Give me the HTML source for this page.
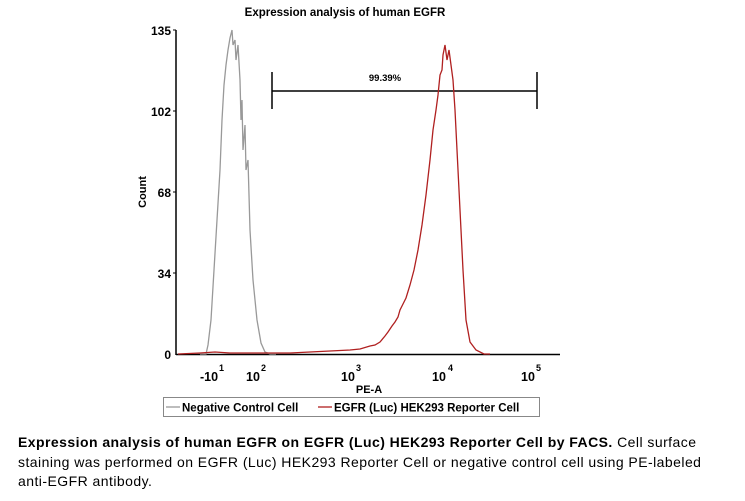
<!DOCTYPE html>
<html><head><style>
body{margin:0;background:#fff;width:745px;height:501px;overflow:hidden;font-family:"Liberation Sans",sans-serif;}
.cap{position:absolute;left:18px;top:433px;width:718px;font-size:14px;letter-spacing:0.45px;line-height:19.5px;color:#000;}
</style></head><body>
<svg width="745" height="501" style="position:absolute;left:0;top:0" font-family="Liberation Sans, sans-serif">
<text x="345" y="16" font-size="11.5" font-weight="bold" text-anchor="middle">Expression analysis of human EGFR</text>
<line x1="176" y1="30" x2="176" y2="355" stroke="#000" stroke-width="1.5"/>
<line x1="176" y1="354.5" x2="560" y2="354.5" stroke="#000" stroke-width="1.5"/>
<g stroke="#000" stroke-width="1">
<line x1="173" y1="30" x2="176" y2="30"/><line x1="173" y1="111" x2="176" y2="111"/><line x1="173" y1="192" x2="176" y2="192"/><line x1="173" y1="273" x2="176" y2="273"/>
</g>
<g font-size="12" font-weight="bold" text-anchor="end">
<text x="171" y="35">135</text><text x="171" y="116">102</text><text x="171" y="197">68</text><text x="171" y="278">34</text><text x="171" y="359">0</text>
</g>
<text transform="translate(146,192) rotate(-90)" font-size="11" font-weight="bold" text-anchor="middle">Count</text>
<g font-size="12.5" font-weight="bold">
<text x="200" y="381">-10</text><text x="219" y="371" font-size="9">1</text>
<text x="246" y="381">10</text><text x="261" y="371" font-size="9">2</text>
<text x="341" y="381">10</text><text x="356" y="371" font-size="9">3</text>
<text x="432" y="381">10</text><text x="448" y="371" font-size="9">4</text>
<text x="521" y="381">10</text><text x="536" y="371" font-size="9">5</text>
</g>
<text x="369" y="393" font-size="11" font-weight="bold" text-anchor="middle">PE-A</text>
<line x1="272" y1="91" x2="537" y2="91" stroke="#000" stroke-width="1.5"/>
<line x1="272" y1="72" x2="272" y2="109" stroke="#000" stroke-width="1.5"/>
<line x1="537" y1="72" x2="537" y2="109" stroke="#000" stroke-width="1.5"/>
<text x="385" y="81" font-size="9.5" font-weight="bold" text-anchor="middle">99.39%</text>
<polyline fill="none" stroke="#999" stroke-width="1.3" points="200,354 206,354 208,345 211,320 214,270 217,220 220,170 222,120 224,85 226,65 228,50 230,38 232,30 233,45 235,40 236,60 238,45 240,80 241,120 242,100 243,150 245,125 246,170 248,160 250,230 253,280 257,320 261,343 265,352 270,354 276,354"/>
<polyline fill="none" stroke="#b02020" stroke-width="1.3" points="178,354 200,353 215,352 230,353 260,353 290,353 310,352 330,351 350,350 360,349 370,346 375,345 380,342 385,336 388,332 392,326 395,322 398,317 400,310 403,304 406,298 410,285 414,270 418,250 422,225 426,195 430,160 433,130 436,110 438,95 440,75 442,70 443,55 445,45 447,60 449,50 451,65 453,80 455,110 457,150 460,210 463,270 466,320 470,342 476,350 484,354 490,354"/>
<rect x="163.5" y="397.5" width="376" height="19" fill="none" stroke="#888" stroke-width="1"/>
<line x1="166" y1="407" x2="180" y2="407" stroke="#999" stroke-width="1.3"/>
<text x="182" y="411.5" font-size="11.5" font-weight="bold">Negative Control Cell</text>
<line x1="318" y1="407" x2="332" y2="407" stroke="#b02020" stroke-width="1.3"/>
<text x="334" y="411.5" font-size="11.5" font-weight="bold">EGFR (Luc) HEK293 Reporter Cell</text>
</svg>
<div class="cap"><b>Expression analysis of human EGFR on EGFR (Luc) HEK293 Reporter Cell by FACS.</b> Cell surface staining was performed on EGFR (Luc) HEK293 Reporter Cell or negative control cell using PE-labeled <span style="white-space:nowrap">anti-EGFR</span> antibody.</div>
</body></html>
